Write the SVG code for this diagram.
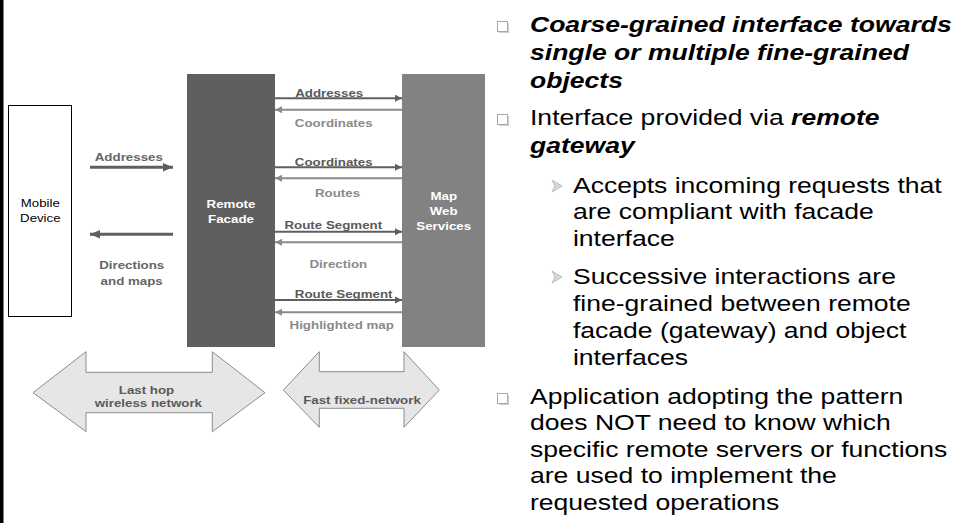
<svg xmlns="http://www.w3.org/2000/svg" width="959" height="523" viewBox="0 0 959 523">
<style>
.lbl{font-family:"Liberation Sans",Arial,sans-serif;font-size:11.3px;font-weight:bold;text-anchor:middle}
.dk{fill:#5a5a5a}
.lt{fill:#8a8a8a}
.wh{fill:#ffffff}
.mob{font-family:"Liberation Sans",Arial,sans-serif;font-size:11.2px;text-anchor:middle;fill:#000}
.body{font-family:"Liberation Sans",Arial,sans-serif;font-size:22.5px;fill:#000}
.bi{font-weight:bold;font-style:italic}
.fwd{stroke:#5f5f5f;stroke-width:2;fill:none}
.back{stroke:#8a8a8a;stroke-width:2;fill:none}
.thick{stroke:#5f5f5f;stroke-width:3;fill:none}
.big{fill:#e6e6e6;stroke:#8c8c8c;stroke-width:1}
.box{fill:#fff;stroke:#a8a8a8;stroke-width:1}
</style>
<defs>
<marker id="hdk" markerUnits="userSpaceOnUse" markerWidth="8" markerHeight="8" refX="7" refY="4" orient="auto"><path d="M0,0.5 L7,4 L0,7.5 z" fill="#5f5f5f"/></marker>
<marker id="hlt" markerUnits="userSpaceOnUse" markerWidth="8" markerHeight="8" refX="7" refY="4" orient="auto"><path d="M0,0.5 L7,4 L0,7.5 z" fill="#8a8a8a"/></marker>
<marker id="hbig" markerUnits="userSpaceOnUse" markerWidth="11" markerHeight="10" refX="10" refY="5" orient="auto"><path d="M0,0.8 L10,5 L0,9.2 z" fill="#5f5f5f"/></marker>
</defs>
<rect x="0" y="0" width="959" height="523" fill="#ffffff"/>
<rect x="0" y="0" width="3.5" height="523" fill="#000"/>

<g id="mobile-device">
<rect x="8.5" y="105.5" width="63" height="211" fill="#fff" stroke="#000" stroke-width="1"/>
<text class="mob" transform="translate(40.3,207.3) scale(1.18,1)">Mobile</text>
<text class="mob" transform="translate(40.3,222.3) scale(1.18,1)">Device</text>
</g>

<g id="remote-facade">
<rect x="187" y="74" width="88" height="273" fill="#5f5f5f"/>
<text class="lbl wh" transform="translate(231,208.3) scale(1.18,1)">Remote</text>
<text class="lbl wh" transform="translate(231,223.3) scale(1.18,1)">Facade</text>
</g>

<g id="map-web-services">
<rect x="402" y="74" width="83" height="273" fill="#828282"/>
<text class="lbl wh" transform="translate(443.7,200) scale(1.18,1)">Map</text>
<text class="lbl wh" transform="translate(443.7,215) scale(1.18,1)">Web</text>
<text class="lbl wh" transform="translate(443.7,230) scale(1.18,1)">Services</text>
</g>

<g id="last-hop-wireless">
<polygon class="big" points="33,392.7 86,351.7 86,372.3 212.3,372.3 212.3,351.7 265,392.7 212.3,431.7 212.3,412.7 86,412.7 86,431.7"/>
<text class="lbl dk" transform="translate(146.5,394.3) scale(1.18,1)">Last hop</text>
<text class="lbl dk" transform="translate(148.3,406.7) scale(1.18,1)">wireless network</text>
</g>

<g id="fast-fixed-network">
<polygon class="big" points="283.3,390 319.3,351.7 319.3,371.7 404,371.7 404,351.7 439.3,390 404,427.3 404,408.3 319.3,408.3 319.3,427.3"/>
<text class="lbl dk" transform="translate(362,404) scale(1.18,1)">Fast fixed-network</text>
</g>

<g id="connectors">
<line class="thick" x1="90" y1="167.3" x2="173" y2="167.3" marker-end="url(#hbig)"/>
<line class="thick" x1="173" y1="234.3" x2="90" y2="234.3" marker-end="url(#hbig)"/>
<line class="fwd" x1="275" y1="98.3" x2="402" y2="98.3" marker-end="url(#hdk)"/>
<line class="back" x1="402" y1="109.7" x2="275" y2="109.7" marker-end="url(#hlt)"/>
<line class="fwd" x1="275" y1="167.3" x2="402" y2="167.3" marker-end="url(#hdk)"/>
<line class="back" x1="402" y1="178.3" x2="275" y2="178.3" marker-end="url(#hlt)"/>
<line class="fwd" x1="275" y1="231.7" x2="402" y2="231.7" marker-end="url(#hdk)"/>
<line class="back" x1="402" y1="242.3" x2="275" y2="242.3" marker-end="url(#hlt)"/>
<line class="fwd" x1="275" y1="300" x2="402" y2="300" marker-end="url(#hdk)"/>
<line class="back" x1="402" y1="312.3" x2="275" y2="312.3" marker-end="url(#hlt)"/>
<text class="lbl" fill="#666" transform="translate(128.8,160.7) scale(1.18,1)">Addresses</text>
<text class="lbl" fill="#666" transform="translate(131.7,269.3) scale(1.18,1)">Directions</text>
<text class="lbl" fill="#666" transform="translate(131.7,285) scale(1.18,1)">and maps</text>
<text class="lbl dk" transform="translate(329.2,96.7) scale(1.18,1)">Addresses</text>
<text class="lbl lt" transform="translate(333.7,127.3) scale(1.18,1)">Coordinates</text>
<text class="lbl dk" transform="translate(333.7,166) scale(1.18,1)">Coordinates</text>
<text class="lbl lt" transform="translate(337.5,196.7) scale(1.18,1)">Routes</text>
<text class="lbl dk" transform="translate(333.3,229) scale(1.18,1)">Route Segment</text>
<text class="lbl lt" transform="translate(338.3,268.3) scale(1.18,1)">Direction</text>
<text class="lbl dk" transform="translate(343.7,298.3) scale(1.18,1)">Route Segment</text>
<text class="lbl lt" transform="translate(341.7,329.3) scale(1.18,1)">Highlighted map</text>
</g>

<g id="bullets">
<rect class="box" x="497.5" y="21.5" width="10" height="10"/>
<path d="M499,32.5 H508.5 V23" fill="none" stroke="#cfcfcf" stroke-width="1.2"/>
<rect class="box" x="497.5" y="114.5" width="10" height="10"/>
<path d="M499,125.5 H508.5 V116" fill="none" stroke="#cfcfcf" stroke-width="1.2"/>
<rect class="box" x="497.5" y="393.5" width="10" height="10"/>
<path d="M499,404.5 H508.5 V395" fill="none" stroke="#cfcfcf" stroke-width="1.2"/>
<path d="M552,180 L562,186 L552,192 L555,186 z" fill="#d8d8d8" stroke="#b0b0b0" stroke-width="0.8"/>
<path d="M552,271 L562,277 L552,283 L555,277 z" fill="#d8d8d8" stroke="#b0b0b0" stroke-width="0.8"/>
</g>

<g id="bullet-text" class="body" transform="translate(530,0) scale(1.18,1)">
<text class="bi" x="0" y="32">Coarse-grained interface towards</text>
<text class="bi" x="0" y="60">single or multiple fine-grained</text>
<text class="bi" x="0" y="88">objects</text>
<text x="0" y="125.5">Interface provided via <tspan class="bi">remote</tspan></text>
<text class="bi" x="0" y="153">gateway</text>
<text x="36.4" y="193">Accepts incoming requests that</text>
<text x="36.4" y="219.5">are compliant with facade</text>
<text x="36.4" y="246">interface</text>
<text x="36.4" y="284">Successive interactions are</text>
<text x="36.4" y="311">fine-grained between remote</text>
<text x="36.4" y="338">facade (gateway) and object</text>
<text x="36.4" y="365">interfaces</text>
<text x="0" y="404">Application adopting the pattern</text>
<text x="0" y="430.5">does NOT need to know which</text>
<text x="0" y="457">specific remote servers or functions</text>
<text x="0" y="483.5">are used to implement the</text>
<text x="0" y="510">requested operations</text>
</g>
</svg>
